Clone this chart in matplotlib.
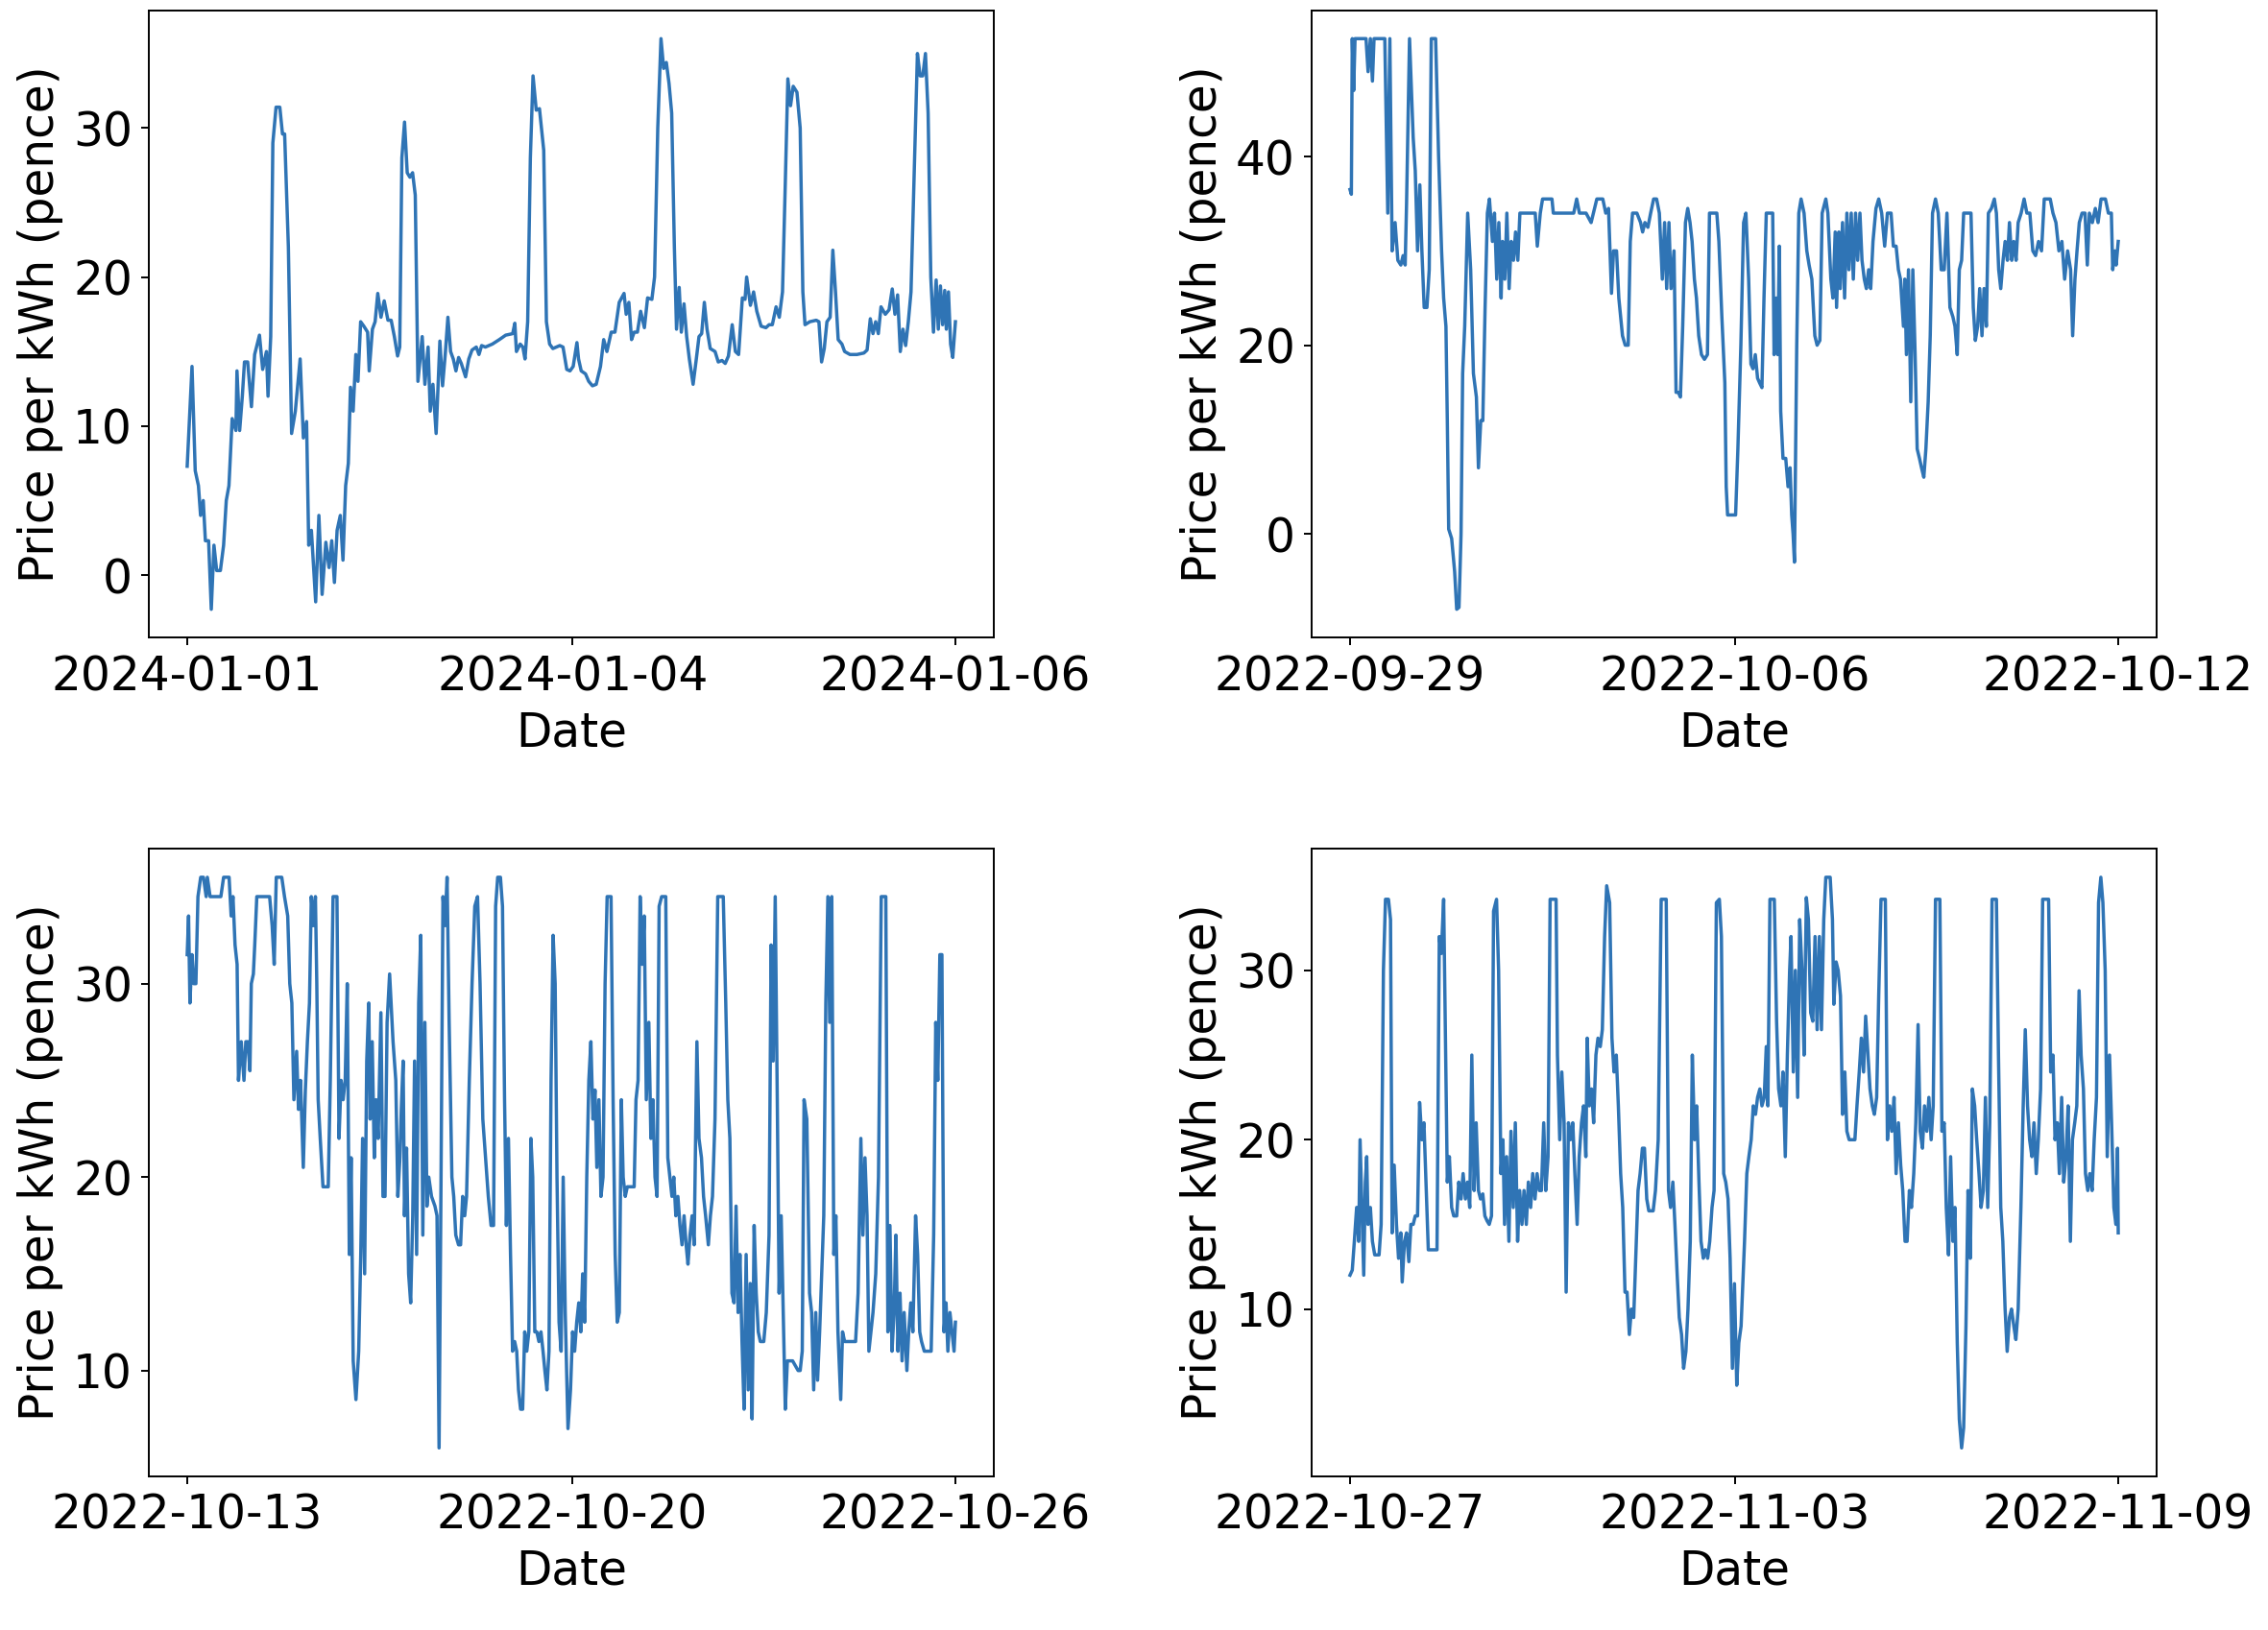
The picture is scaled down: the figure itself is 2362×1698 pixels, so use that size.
import matplotlib
matplotlib.use("Agg")
import matplotlib.pyplot as plt
import matplotlib.dates as mdates
import pandas as pd

# ---------------- data ----------------
start_1 = "2024-01-01"
hours_1 = [0,0.9,1.5,2.1,2.5,3.0,3.4,4.0,4.5,5.0,
           5.5,6.2,6.8,7.3,7.8,8.4,9.1,9.3,9.8,10.3,
           10.7,11.3,12.0,12.6,13.5,14.1,14.8,15.1,15.6,16.0,
           16.6,17.3,17.8,18.2,18.9,19.5,20.2,21.1,21.7,22.3,
           22.7,23.2,24.0,24.6,25.2,25.9,26.5,27.0,27.5,28.0,
           28.6,29.1,29.6,30.1,30.5,31.0,31.5,31.9,32.4,33.0,
           33.7,34.0,34.6,35.1,35.6,36.2,36.8,37.5,38.1,38.7,
           39.3,39.7,40.1,40.6,41.1,41.6,42.1,42.6,43.1,43.9,
           44.4,45.0,45.4,45.9,46.5,47.2,47.7,48.2,48.7,49.2,
           49.7,50.2,50.7,51.2,52.0,52.6,53.2,54.0,54.5,55.0,
           55.7,57.0,58.3,59.5,60.8,61.2,61.5,62.2,62.7,63.1,
           63.6,64.1,64.6,65.2,65.8,66.6,67.1,67.7,68.3,69.6,
           70.2,70.9,71.5,72.1,72.8,73.1,73.6,74.4,75.0,75.7,
           76.4,77.2,77.8,78.4,79.2,79.9,80.7,81.6,82.0,82.5,
           83.0,83.5,84.1,84.7,85.4,86.0,86.8,87.3,87.9,88.5,
           89.0,89.5,90.0,90.5,91.0,91.4,91.9,92.3,92.8,93.3,
           93.8,94.5,95.1,95.6,96.1,96.6,97.1,97.7,98.6,99.2,
           99.9,100.5,101.1,101.8,102.4,103.0,103.7,104.2,104.5,105.2,
           105.8,106.4,107.2,108.1,108.7,109.3,110.0,110.6,111.2,111.7,
           112.2,112.7,113.2,113.9,114.5,115.0,115.4,116.3,117.5,118.0,
           118.5,119.0,119.5,120.1,120.6,121.1,121.6,122.3,122.8,123.8,
           125.1,126.4,127.0,127.6,128.1,128.6,129.1,129.6,130.4,131.1,
           131.7,132.2,132.7,133.2,133.7,134.2,134.7,135.2,135.8,136.4,
           136.9,137.4,137.9,138.4,138.9,139.4,139.9,140.3,140.7,141.1,
           141.5,141.8,142.2,142.6,143.0,143.5]
price_1 = [7.3,14,7,6,4,5,2.3,2.3,-2.3,2,
           0.3,0.3,2,5,6,10.5,9.7,13.7,9.7,12,
           14.3,14.3,11.3,14.8,16.1,13.8,15,12,16,29,
           31.4,31.4,29.6,29.6,22,9.5,11,14.5,9.2,10.3,
           2,3,-1.8,4,-1.3,2.2,0.5,2.3,-0.5,3,
           4,1,6,7.5,12.6,11,14.8,13,17,16.7,
           16.3,13.7,16.5,17,18.9,17.3,18.4,17.1,17.1,16,
           14.7,15.3,28,30.4,27,26.7,27,25.5,13,16,
           12.8,15.3,11,12.8,9.5,15.7,12.7,14.8,17.3,15,
           14.5,13.7,14.6,14.2,13.3,14.5,15.1,15.3,14.8,15.4,
           15.3,15.5,15.8,16.1,16.2,16.9,15,15.5,15.3,14.5,
           17,28,33.5,31.2,31.3,28.5,17,15.5,15.2,15.4,
           15.3,13.8,13.7,14,15.6,14.5,13.7,13.5,13,12.7,
           12.8,14,15.8,15,16.3,16.3,18.3,18.9,17.5,18.3,
           15.8,16.3,16.3,17.7,16.6,18.6,18.5,20,30,36,
           34,34.4,33,31,22,16.5,19.3,16.3,18.2,16,
           14.5,12.8,14.5,16,16.2,18.3,16.5,15.2,15,14.3,
           14.4,14.2,14.7,16.8,15,14.8,18.6,18.5,20,18.1,
           19,17.7,16.7,16.6,16.8,16.8,18,17.3,19,26,
           33.3,31.5,32.8,32.4,30,19,16.8,17,17.1,17,
           14.3,15.2,17,17.3,21.8,19,15.8,15.5,15,14.8,
           14.8,14.9,15.1,17.2,16.2,17,16.2,18,17.5,17.8,
           19.2,17.5,18.8,15,16.5,15.4,17,19,27,35,
           33.5,33.5,35,31,20,16.3,19.8,16.5,19.4,16.8,
           19.1,16.5,19,15.5,14.6,17]

start_2 = "2022-09-29"
hours_2 = [0.0,0.6,1.0,1.6,2.2,7.0,7.9,8.9,9.8,10.5,
           15.2,16.5,17.4,18.4,19.7,20.9,22.2,23.2,24.1,24.7,
           26.0,27.6,28.5,29.5,30.5,31.4,32.4,33.6,34.6,35.5,
           37.4,38.7,40.0,40.9,41.9,42.5,43.1,44.4,45.7,46.6,
           47.6,48.5,49.2,50.1,51.4,52.7,53.9,55.2,56.1,57.1,
           58.0,59.0,60.0,60.9,62.2,63.1,64.1,65.0,66.0,66.6,
           67.6,68.5,69.5,70.4,71.4,72.3,73.3,74.2,76.1,79.3,
           80.9,81.8,83.1,84.1,85.6,88.2,88.8,92.0,95.2,97.7,
           99.0,100.2,103.1,105.3,106.3,107.8,110.4,111.7,112.9,114.2,
           115.1,116.4,117.4,119.0,120.2,121.5,122.4,123.4,125.3,126.9,
           127.8,128.8,130.1,131.3,132.6,133.9,135.1,136.4,137.4,138.3,
           139.3,140.2,141.5,142.4,143.4,144.3,145.3,146.5,147.5,148.5,
           149.4,150.4,151.3,152.3,153.5,154.8,156.1,157.0,160.2,161.1,
           162.4,163.7,164.3,164.9,166.2,167.5,168.4,169.4,170.7,171.9,
           172.9,174.1,175.1,176.0,177.0,178.0,178.9,179.9,180.8,181.8,
           183.3,184.6,185.2,186.2,186.8,187.5,188.1,189.1,190.3,191.3,
           192.2,192.9,193.5,194.1,195.1,196.0,197.0,198.3,199.5,200.5,
           201.7,203.0,204.0,205.2,206.2,207.8,208.7,210.0,210.9,211.9,
           212.5,213.5,214.1,215.1,216.0,217.0,217.9,218.9,219.8,220.8,
           221.7,222.7,223.6,224.6,225.5,226.5,227.4,228.4,229.7,230.9,
           232.2,233.5,234.7,236.3,237.3,238.5,239.5,240.4,241.7,242.3,
           243.0,243.9,244.9,245.8,246.8,247.7,248.7,249.6,250.6,251.5,
           252.5,253.4,254.4,255.7,256.9,258.2,259.5,260.7,262.0,263.3,
           264.2,265.2,266.1,267.1,268.0,269.6,271.2,272.2,273.1,274.1,
           275.0,276.0,276.9,277.9,278.8,280.1,281.4,282.3,283.3,284.2,
           285.2,286.1,287.1,288.0,289.0,289.9,290.9,291.8,293.1,294.4,
           295.6,296.9,298.2,299.4,300.7,302.0,303.2,305.8,307.0,308.3,
           309.6,310.9,312.1,313.4,314.7,315.6,316.6,317.5,318.5,319.7,
           321.0,322.0,322.9,324.2,325.5,326.7,328.0,329.9,331.2,332.5,
           333.1,334.0,334.6,335.5]
price_2 = [36.5,36,52.5,47,52.5,52.5,49,52.5,48,52.5,
           52.5,34,52.5,30,33,29,28.5,29.5,28.5,35,
           52.5,42,38.5,30,37,30,24,24,28,52.5,
           52.5,40,30,25,22,12,0.5,-0.5,-4,-8,
           -7.8,0,17,22,34,28,17,14.5,7,12,
           12,24,34,35.5,31,34,27,33,25,31,
           27,34,26,31,29,32,29,34,34,34,
           34,30.5,34,35.5,35.5,35.5,34,34,34,34,
           35.5,34,34,33,34,35.5,35.5,34,34.5,25.5,
           30,30,25,21,20,20,31,34,34,33,
           32,33,32.5,34,35.5,35.5,34,27,33,26,
           33,26,30,15,15,14.5,22,33,34.5,33,
           31,27,25,21,19,18.5,19,34,34,31,
           23,16,5,2,2,2,2,9,20,33,
           34,27,18,17.5,19,16.5,16,15.5,25,34,
           34,34,19,25,19,30.5,13,8,8,5,
           7,2,0,-3,20,34,35.5,34,30,28.5,
           27,21,20,20.5,34,35.5,34,27,25,32,
           24,32,26,33,25,34,28,34,27,34,
           29,34,29,27,26,28,26,31,34.5,35.5,
           34,30.5,34,34,30.5,30.5,28,27,22,27,
           19,28,14,28,19,9,8,7,6,9,
           14,21,34,35.5,34,28,28,34,24,23,
           22,19,28,29,34,34,34,24,20.5,22,
           26,21,26,22,34,34.5,35.5,34,28,26,
           29,31,29,33,29,31,29,33,34,35.5,
           34,34,30,29.5,31,30,35.5,35.5,34,33,
           30,31,27,30,28,21,27,30,33,34,
           34,28.5,34,33,34.5,33,35.5,35.5,34,34,
           28,30,28.5,31]

start_3 = "2022-10-13"
hours_3 = [0,0.6,1.2,2.1,2.9,3.8,4.7,5.9,7.1,8.3,
           8.8,10.0,12.4,14.7,15.9,18.3,19.2,20.0,20.9,21.8,
           22.4,23.6,24.8,25.6,26.5,27.4,28.0,28.9,29.5,30.4,
           33.0,36.0,37.1,38.0,38.9,41.3,42.5,43.9,44.8,45.7,
           46.6,47.8,48.6,49.5,50.7,51.6,52.5,53.4,54.2,55.1,
           56.0,56.6,57.2,58.1,59.3,61.6,62.5,63.7,65.4,66.3,
           67.2,68.1,69.0,69.9,70.8,71.6,72.5,73.7,74.9,75.8,
           76.6,77.5,78.4,79.3,79.9,80.8,81.7,82.5,83.4,84.6,
           85.5,86.4,87.3,88.4,89.9,91.1,92.0,92.9,93.5,94.3,
           94.9,95.8,96.7,97.6,98.5,99.3,100.2,101.1,102.0,102.9,
           103.8,104.7,105.5,106.7,108.2,109.1,110.0,110.8,111.7,112.6,
           113.5,114.4,115.6,116.4,117.3,118.5,119.4,120.3,121.2,122.0,
           123.2,124.4,125.6,126.8,127.9,129.1,130.3,131.5,132.7,133.8,
           134.7,135.6,136.8,137.7,138.6,139.4,140.3,141.2,142.1,143.0,
           143.9,144.7,145.6,146.5,147.4,148.3,149.2,150.1,150.9,151.8,
           152.7,153.6,154.5,155.4,156.2,157.1,158.0,158.9,159.8,160.7,
           161.5,162.4,163.3,164.2,165.1,166.3,167.4,168.3,169.2,170.1,
           171.0,171.9,172.7,173.6,174.5,175.4,176.3,177.2,178.1,178.9,
           179.8,180.7,181.6,182.5,183.4,185.1,186.0,186.9,187.8,188.7,
           189.6,190.4,191.3,192.2,193.7,195.2,196.0,196.9,197.8,198.7,
           199.6,200.5,201.6,202.5,203.4,204.3,205.2,206.1,207.2,209.0,
           209.9,210.8,211.7,212.5,213.4,214.3,215.2,216.1,217.0,217.9,
           218.7,219.6,220.5,221.4,222.6,223.5,224.6,225.5,226.4,227.6,
           228.5,229.4,230.5,231.7,234.1,235.2,236.1,237.0,237.9,238.8,
           239.7,240.6,241.4,242.3,243.2,244.1,245.0,245.9,246.7,247.6,
           248.5,249.4,250.3,251.8,252.9,254.1,255.0,255.9,256.8,257.7,
           258.5,259.4,260.3,261.2,262.1,264.4,266.8,267.7,268.6,269.4,
           270.6,271.8,272.7,273.6,274.5,275.3,276.2,277.1,278.0,278.9,
           279.8,280.6,281.5,282.4,283.3,284.2,285.4,286.2,287.1,289.5,
           291.9,293.0,294.2,295.1,296.0,296.9,297.7,298.6,299.5,300.7,
           301.9,303.1,305.1,306.0,306.9,307.8,308.7,309.5,310.4,311.3,
           312.2,313.1,314.3,315.1,316.0,316.9,318.1,319.0,319.9,320.7,
           321.9,323.4,324.9,326.0,326.9,327.8,328.7,329.6,330.5,331.4,
           332.2,333.1,334.0,334.9,335.5]
price_3 = [31.5,33.5,29,31.5,30,30,34.5,35.5,35.5,34.5,
           35.5,34.5,34.5,34.5,35.5,35.5,33.5,34.5,32,31,
           25,27,25,27,27,25.5,30,30.5,32,34.5,
           34.5,34.5,33,31,35.5,35.5,34.5,33.5,30,29,
           24,26.5,23.5,25,20.5,24.5,27,29,34.5,33,
           34.5,30,24,22,19.5,19.5,25,34.5,34.5,22,
           25,24,25,30,16,21,10.5,8.5,11,16,
           22,15,26,29,23,27,21,24,22,28.5,
           19,19,28,30.5,27,25,19,21,23.5,26,
           18,21.5,15,13.5,18,26,16,29,32.5,17,
           28,18.5,20,19,18.5,18,6,19,34.5,33,
           35.5,28,20,19,17,16.5,16.5,19,18,19,
           25,30,34,34.5,30,23,21,19,17.5,17.5,
           34,35.5,35.5,34,24,17.5,22,16,11,11.5,
           11,9,8,8,12,11,12,22,20,12,
           12,11.5,12,11,10,9,11,25,32.5,30,
           20,12.5,11,20,13,7,9,12,11,12.5,
           13.5,12,15,12.5,20,25,27,23,24.5,20.5,
           24,19,20,30,34.5,34.5,24,16,12.5,13,
           24,20,19,19.5,19.5,19.5,24,25,34.5,31,
           33.5,24,28,22,24,20,19,34,34.5,34.5,
           21,20,19,20,18,19,17.5,16.5,18,16.5,
           15.5,17,18,16.5,27,22,21,19,18,16.5,
           18,19,23,34.5,34.5,29,24,22,14,13.5,
           18.5,13,16,11.5,8,16,9,14.5,7.5,17.5,
           14,12,11.5,11.5,13,17,32,26,34.5,24,
           14,18,13,8,10.5,10.5,10,10,11,24,
           23,14,13,9,13,9.5,12,15,18,29,
           34.5,28,34.5,16,18,12,8.5,12,11.5,11.5,
           11.5,14,22,17,21,18,11,12,13,15,
           20,34.5,34.5,12,17.5,11,13,17,11,14,
           10.5,13,10,12,13.5,12,18,16,12,11.5,
           11,11,11,17,28,25,31.5,31.5,12,13.5,
           11,13,12,11,12.5]

start_4 = "2022-10-27"
hours_4 = [0,1.0,1.9,2.9,3.8,4.4,5.4,6.0,6.7,7.3,
           7.9,8.9,9.8,10.8,11.7,12.7,13.6,14.6,15.5,16.8,
           17.7,18.4,19.3,20.3,21.2,22.2,22.8,23.8,24.7,25.7,
           26.6,27.6,28.5,29.5,30.4,31.4,32.3,33.3,34.2,35.8,
           38.0,39.0,39.9,40.9,41.5,42.5,43.4,44.4,45.3,46.6,
           47.5,48.5,49.4,50.4,51.3,52.3,53.2,54.2,55.1,56.1,
           57.0,58.0,58.9,59.9,60.8,61.8,62.7,64.0,64.9,65.9,
           66.8,67.5,68.4,69.4,70.3,71.3,72.2,73.2,74.1,75.1,
           76.0,77.0,77.9,78.9,79.8,80.8,81.7,82.7,83.6,84.6,
           85.5,86.5,87.4,90.0,90.6,91.6,92.5,93.5,94.4,95.4,
           96.3,97.3,98.2,99.2,100.1,101.1,102.0,103.0,103.6,104.5,
           105.5,106.4,107.4,108.3,109.3,110.2,111.2,112.1,113.4,114.4,
           115.3,116.3,117.2,118.2,119.1,120.1,121.0,122.0,122.9,123.9,
           124.8,125.8,126.7,127.7,128.6,129.6,130.5,132.4,133.4,134.6,
           135.9,138.1,139.1,140.0,141.0,141.9,142.9,143.8,144.8,145.7,
           146.7,147.6,148.6,149.5,150.5,151.4,152.4,153.3,154.3,155.2,
           156.2,157.1,158.1,159.0,160.0,161.3,162.2,163.2,164.1,165.1,
           166.0,167.0,167.9,168.9,169.8,170.8,171.4,172.3,173.3,174.2,
           175.2,176.1,177.1,178.0,179.0,179.9,180.9,181.8,182.5,183.4,
           185.3,186.3,187.2,188.2,189.1,190.1,191.0,192.0,192.6,193.6,
           194.5,195.5,196.4,197.4,198.3,199.3,200.2,201.2,202.1,203.1,
           204.0,205.0,205.9,206.9,207.8,208.8,209.7,210.7,211.3,212.3,
           213.2,214.2,215.1,216.1,217.0,218.0,219.5,220.5,221.4,222.4,
           223.3,224.3,225.2,226.2,227.1,228.1,229.0,230.0,230.9,231.9,
           233.8,234.7,235.7,236.6,237.6,238.5,239.5,240.5,241.4,242.4,
           243.3,244.3,245.2,246.2,247.1,248.1,249.0,250.0,250.9,251.9,
           252.8,253.8,254.7,255.7,257.6,258.5,259.5,260.4,261.4,262.3,
           263.3,264.2,265.2,266.1,267.1,268.0,269.0,269.9,270.9,271.8,
           272.8,273.7,274.7,275.6,276.6,277.5,278.5,279.4,280.4,282.3,
           283.2,284.2,285.1,286.1,287.0,288.0,288.9,289.9,290.8,291.8,
           293.0,294.0,294.9,295.9,296.8,297.8,298.7,299.7,300.6,301.6,
           302.5,305.1,306.0,307.0,307.9,308.9,309.8,310.8,311.7,312.7,
           313.6,314.6,315.5,316.5,317.4,318.4,319.3,320.3,321.2,322.2,
           323.1,324.1,325.0,326.0,326.9,327.9,328.8,329.8,330.7,331.7,
           332.6,333.6,334.5,335.2,335.5]
price_4 = [12,12.3,14,16,14,20,15,12,17.5,19,
           15,16,14,13.2,13.2,13.2,15,30,34.2,34.2,
           33,14.5,18.5,15,13,14.5,11.6,14,14.5,12.8,
           15,15,15.5,15.5,22.2,20,21,17,13.5,13.5,
           13.5,32,31,34.2,28,17.5,19,16,15.5,15.5,
           17.5,16.5,18,16.5,17.5,16,25,17,21,17,
           16.5,16.8,15.5,15.2,15,15.5,33.5,34.2,30,18,
           20,15,19,14,20.5,16,21,14,17,15,
           17,15,17.5,16,18,16.5,18,17,17,21,
           17,19,34.2,34.2,25,20,24,21,11,21,
           20,21,18,15,19,21,22,19,26,22,
           23,21,25,26,25.5,26.5,32,35,34,26,
           24,25,22,18,16,11,11,8.5,10,9.5,
           13,17,18,19.5,19.5,16.5,15.8,15.8,17,20,
           34.2,34.2,17,16,17.5,15,12,9.5,8.5,6.5,
           7.5,10,14,25,20,22,17.5,14,13,13.5,
           13,14,16,17,34,34.2,32,18,17.5,16.5,
           13,6.5,11.5,5.5,8,9,11,14,18,19,
           20,22,21.5,22.5,23,22,22.5,25.5,22,34.2,
           34.2,27,23,22,24,19,25,30,32,24,
           30,22.5,33,30,25,34.3,33,27.5,27,32,
           26.5,32,26.5,33,35.5,35.5,35.5,33,28,30.5,
           30,28.5,21.5,24,20.5,20,20,20,22,24,
           26,24,27.3,25,23,22,21.5,22.5,28.5,34.2,
           34.2,20,22,20.5,22.5,18,21,18.5,17,14,
           14,17,16,18,21,26.8,20.5,19.5,22,20.5,
           22.5,20,22,34.2,34.2,20.5,21,16,13.2,19,
           14,16,8,3.5,1.8,3,9,17,13,23,
           22,20,18,16,17,22.5,16,21,34.2,34.2,
           25,16,14,10,7.5,9.5,10,9,8.2,10,
           16,22,26.5,22,20,19,21,18,20,23,
           34.2,34.2,24,25,20,21,18,22.5,17.5,19,
           22,14,20,21,22,28.8,25,23,18,17,
           18,17,20,22.5,34,35.5,34,30,19,25,
           21,16,15,19.5,14.5]

mid_labels = ["2024-01-04", "2022-10-06", "2022-10-20", "2022-11-03"]
yticks_all = [[0, 10, 20, 30], [0, 20, 40], [10, 20, 30], [10, 20, 30]]

panels = [
    (start_1, hours_1, price_1),
    (start_2, hours_2, price_2),
    (start_3, hours_3, price_3),
    (start_4, hours_4, price_4),
]

# ---------------- plot ----------------
FS = 35
LINE_COLOR = "#2f74b5"

fig, axes = plt.subplots(2, 2, figsize=(23.62, 16.98), dpi=100)
fig.subplots_adjust(left=0.0656, right=0.9509, top=0.9938, bottom=0.0942,
                    wspace=0.376, hspace=0.336)

for ax, (start, hrs, prc), mid, yt in zip(axes.flat, panels, mid_labels, yticks_all):
    n = min(len(hrs), len(prc))
    t = pd.Timestamp(start) + pd.to_timedelta(hrs[:n], unit="h")
    xs = mdates.date2num(t.to_pydatetime())
    ax.plot(xs, prc[:n], color=LINE_COLOR, linewidth=2.5)
    tick_dates = [t[0], pd.Timestamp(mid), t[-1]]
    ax.set_xticks(mdates.date2num([d.to_pydatetime() for d in tick_dates]))
    ax.set_xticklabels([d.strftime("%Y-%m-%d") for d in tick_dates])
    ax.set_yticks(yt)
    ax.set_xlabel("Date", fontsize=FS, labelpad=7)
    ax.set_ylabel("Price per kWh (pence)", fontsize=FS, labelpad=7)
    ax.tick_params(labelsize=FS, length=6.1, width=1.4, pad=6.1)
    for s in ax.spines.values():
        s.set_linewidth(1.4)

fig.savefig("out.png", dpi=100)
